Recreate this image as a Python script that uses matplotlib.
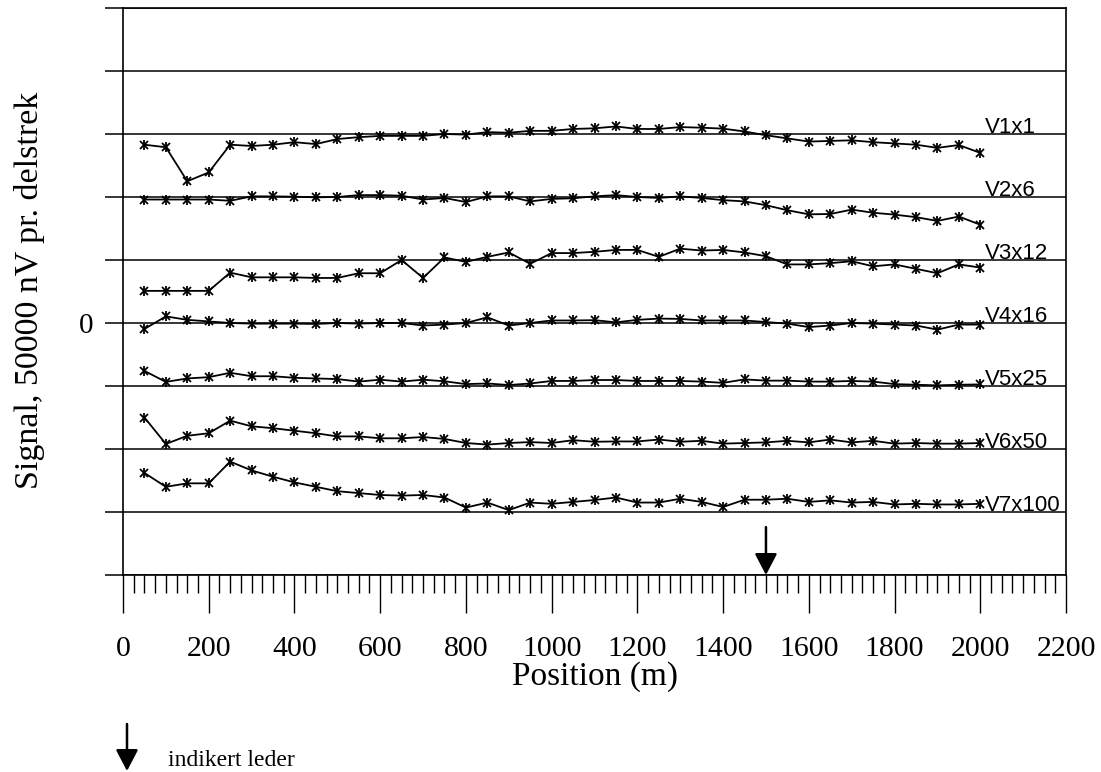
import numpy as np
import matplotlib
matplotlib.use('Agg')
import matplotlib.pyplot as plt
from matplotlib.ticker import MultipleLocator

# Profile positions (m)
pos = [50, 100, 150, 200, 250, 300, 350, 400, 450, 500,
       550, 600, 650, 700, 750, 800, 850, 900, 950, 1000,
       1050, 1100, 1150, 1200, 1250, 1300, 1350, 1400, 1450, 1500,
       1550, 1600, 1650, 1700, 1750, 1800, 1850, 1900, 1950, 2000]

# Scaled signal per channel, in units of 50000 nV (one division)
v1 = [-0.17, -0.21, -0.75, -0.61, -0.17, -0.19, -0.17, -0.13, -0.16, -0.08,
      -0.05, -0.03, -0.03, -0.03, 0.00, -0.01, 0.03, 0.02, 0.05, 0.05,
      0.08, 0.09, 0.12, 0.08, 0.08, 0.11, 0.10, 0.085, 0.04, -0.02,
      -0.07, -0.12, -0.11, -0.10, -0.13, -0.15, -0.17, -0.22, -0.175, -0.30]
v2 = [-0.04, -0.04, -0.04, -0.04, -0.06, 0.01, 0.01, 0.005, -0.005, 0.00,
      0.03, 0.03, 0.02, -0.04, -0.015, -0.08, 0.01, 0.01, -0.07, -0.03,
      -0.02, 0.01, 0.03, 0.00, -0.015, 0.01, -0.015, -0.05, -0.07, -0.13,
      -0.21, -0.275, -0.27, -0.20, -0.25, -0.28, -0.32, -0.38, -0.31, -0.44]
v3 = [-0.49, -0.49, -0.49, -0.49, -0.20, -0.275, -0.275, -0.275, -0.285, -0.285,
      -0.21, -0.21, 0.00, -0.285, 0.04, -0.03, 0.05, 0.12, -0.06, 0.11,
      0.11, 0.13, 0.16, 0.16, 0.05, 0.18, 0.15, 0.16, 0.12, 0.06,
      -0.07, -0.07, -0.05, -0.02, -0.10, -0.07, -0.14, -0.21, -0.07, -0.12]
v4 = [-0.095, 0.105, 0.05, 0.025, 0.00, -0.01, -0.01, -0.01, -0.015, 0.00,
      -0.01, 0.00, 0.00, -0.04, -0.025, 0.00, 0.09, -0.04, 0.00, 0.04,
      0.04, 0.045, 0.01, 0.05, 0.07, 0.065, 0.04, 0.04, 0.04, 0.015,
      -0.01, -0.065, -0.04, 0.00, -0.01, -0.025, -0.04, -0.105, -0.025, -0.025]
v5 = [0.24, 0.065, 0.12, 0.14, 0.21, 0.155, 0.155, 0.13, 0.12, 0.11,
      0.07, 0.10, 0.07, 0.10, 0.075, 0.03, 0.04, 0.015, 0.04, 0.08,
      0.08, 0.095, 0.095, 0.08, 0.08, 0.08, 0.07, 0.05, 0.105, 0.085,
      0.085, 0.07, 0.07, 0.08, 0.07, 0.03, 0.02, 0.01, 0.02, 0.025]
v6 = [0.50, 0.08, 0.21, 0.25, 0.45, 0.36, 0.33, 0.29, 0.25, 0.20,
      0.20, 0.17, 0.17, 0.19, 0.16, 0.095, 0.07, 0.095, 0.11, 0.095,
      0.14, 0.115, 0.12, 0.12, 0.15, 0.115, 0.13, 0.085, 0.095, 0.105,
      0.13, 0.105, 0.15, 0.105, 0.13, 0.085, 0.095, 0.085, 0.085, 0.095]
v7 = [0.62, 0.40, 0.455, 0.455, 0.80, 0.66, 0.56, 0.47, 0.40, 0.33,
      0.30, 0.27, 0.26, 0.27, 0.23, 0.07, 0.15, 0.03, 0.15, 0.13,
      0.16, 0.19, 0.23, 0.15, 0.15, 0.21, 0.16, 0.08, 0.195, 0.195,
      0.21, 0.16, 0.185, 0.15, 0.16, 0.12, 0.13, 0.12, 0.12, 0.13]

channels = ['V1x1', 'V2x6', 'V3x12', 'V4x16', 'V5x25', 'V6x50', 'V7x100']
series = [v1, v2, v3, v4, v5, v6, v7]

leder_pos = 1500  # indicated conductor

serif = 'Liberation Serif'
sans = 'Liberation Sans'

fig = plt.figure(figsize=(11.01, 7.72), dpi=100)
ax = fig.add_axes([123 / 1101, 1 - 575 / 772, 943 / 1101, 567 / 772])

# each channel is shifted down one division from the previous
for i, (name, vals) in enumerate(zip(channels, series)):
    base = 3 - i
    y = np.array(vals) + base
    ax.plot(pos, y, color='black', lw=1.3, marker='x', ms=5.5, mew=1.3)
    ax.plot(pos, y, color='black', ls='none', marker='|', ms=6.5, mew=1.3)
    ax.text(2010, base + 0.02, name, ha='left', va='baseline',
            fontsize=16, family=sans)

ax.set_xlim(0, 2200)
ax.set_ylim(-4, 5)
ax.xaxis.set_major_locator(MultipleLocator(200))
ax.xaxis.set_minor_locator(MultipleLocator(25))
ax.set_yticks(range(-4, 6))
ax.set_yticklabels(['0' if t == 0 else '' for t in range(-4, 6)])
ax.grid(axis='y', color='black', lw=1.1)

ax.tick_params(axis='x', which='major', direction='out', length=27, width=1.0,
               pad=17, labelsize=21.5)
ax.tick_params(axis='x', which='minor', direction='out', length=13, width=1.0)
ax.tick_params(axis='y', which='major', direction='out', length=13, width=1.1,
               pad=8, labelsize=21)
for lab in ax.get_xticklabels() + ax.get_yticklabels():
    lab.set_family(serif)
for sp in ax.spines.values():
    sp.set_linewidth(1.2)

ax.annotate('', xy=(leder_pos, -4), xytext=(leder_pos, -3.24),
            arrowprops=dict(arrowstyle='-|>,head_length=0.65,head_width=0.34',
                            color='black', lw=1.8, mutation_scale=20,
                            shrinkA=0, shrinkB=0))

fig.text(595 / 1101, 1 - 677 / 772, 'Position (m)', ha='center', va='center',
         fontsize=24, family=serif)
fig.text(30 / 1101, 1 - 290 / 772, 'Signal, 50000 nV pr. delstrek',
         rotation=90, ha='center', va='center', fontsize=24.5, family=serif)

# legend for the arrow symbol
ax.annotate('', xy=(127, 1), xycoords='figure pixels',
            xytext=(127, 48), textcoords='figure pixels',
            arrowprops=dict(arrowstyle='-|>,head_length=0.65,head_width=0.34',
                            color='black', lw=1.8, mutation_scale=20,
                            shrinkA=0, shrinkB=0))
fig.text(168 / 1101, 6 / 772, 'indikert leder', ha='left', va='baseline',
         fontsize=17, family=serif)

fig.savefig('out.png', dpi=100)
